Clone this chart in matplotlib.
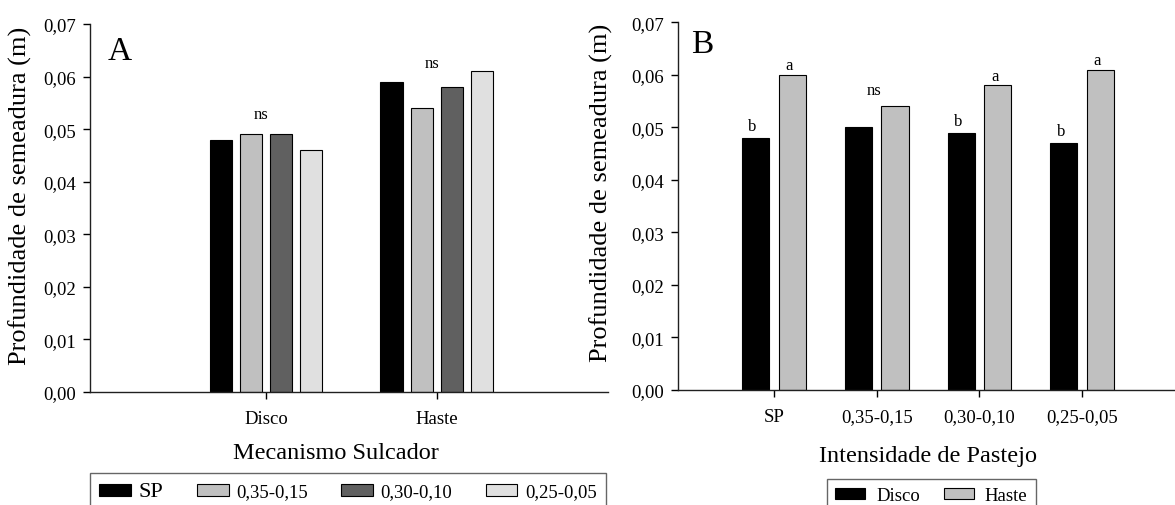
import numpy as np
import matplotlib
matplotlib.use('Agg')
import matplotlib.pyplot as plt
from matplotlib.patches import Patch

plt.rcParams['font.family'] = ['Liberation Serif', 'DejaVu Serif']

# Panel A: depth by furrow opener, grazing intensity as series
mecanismos = ['Disco', 'Haste']
intensidades = ['SP', '0,35-0,15', '0,30-0,10', '0,25-0,05']
prof_A = {
    'SP':        [0.048, 0.059],
    '0,35-0,15': [0.049, 0.054],
    '0,30-0,10': [0.049, 0.058],
    '0,25-0,05': [0.046, 0.061],
}
cores_A = ['#000000', '#c0c0c0', '#606060', '#e0e0e0']
sig_A = ['ns', 'ns']
sig_A_y = [0.0529, 0.0625]

# Panel B: depth by grazing intensity, opener as series
prof_B_disco = [0.048, 0.050, 0.049, 0.047]
prof_B_haste = [0.060, 0.054, 0.058, 0.061]
letras_disco = ['b', '', 'b', 'b']
letras_haste = ['a', '', 'a', 'a']
sig_B_ns = ['', 'ns', '', '']
sig_B_ns_y = 0.0571
cores_B = ['#000000', '#c0c0c0']

yticks = [0.00, 0.01, 0.02, 0.03, 0.04, 0.05, 0.06, 0.07]
yticklabels = ['0,00', '0,01', '0,02', '0,03', '0,04', '0,05', '0,06', '0,07']

fig = plt.figure(figsize=(11.75, 5.06), dpi=100)
axA = fig.add_axes([0.0766, 0.2233, 0.4406, 0.7273])
axB = fig.add_axes([0.577, 0.2279, 0.423, 0.726])


def estilo(ax):
    ax.spines['top'].set_visible(False)
    ax.spines['right'].set_visible(False)
    for s in ['left', 'bottom']:
        ax.spines[s].set_linewidth(1.0)
        ax.spines[s].set_color('#202020')
    ax.set_ylim(0, 0.07)
    ax.set_yticks(yticks)
    ax.set_yticklabels(yticklabels)
    ax.tick_params(axis='y', length=5, width=1, pad=5, labelsize=13.5)
    ax.tick_params(axis='x', length=5, width=1, pad=8, labelsize=13.5)


# ---- panel A
xA = np.arange(1, len(mecanismos) + 1)
larg = 0.132
passo = 0.176
for i, nome in enumerate(intensidades):
    off = (i - 1.5) * passo
    axA.bar(xA + off, prof_A[nome], width=larg, color=cores_A[i],
            edgecolor='black', linewidth=0.8, label=nome)
for j, t in enumerate(sig_A):
    axA.text(xA[j] - 0.03, sig_A_y[j], t, ha='center', va='center', fontsize=12)
estilo(axA)
axA.set_xlim(-0.03, 3.0)
axA.set_xticks(xA)
axA.set_xticklabels(mecanismos)
axA.set_xlabel('Mecanismo Sulcador', fontsize=17.5)
axA.xaxis.set_label_coords(0.475, -0.137)
axA.set_ylabel('Profundidade de semeadura (m)', fontsize=19)
axA.yaxis.set_label_coords(-0.112, 0.535)
axA.text(0.058, 0.928, 'A', transform=axA.transAxes, fontsize=24,
         ha='center', va='center')

handlesA = [Patch(facecolor=c, edgecolor='black', linewidth=0.8, label=n)
            for c, n in zip(cores_A, intensidades)]
legA = fig.legend(handles=handlesA, loc='upper left', ncol=4,
                  bbox_to_anchor=(90 / 1175, 0, 516 / 1175, 1 - 474 / 506),
                  mode='expand', fontsize=13.5, frameon=True, fancybox=False,
                  edgecolor='#404040', handlelength=1.7, handleheight=0.6,
                  handletextpad=0.4, columnspacing=1.8, borderpad=0.5,
                  borderaxespad=0)
legA.get_frame().set_linewidth(1.0)
legA.get_texts()[0].set_fontsize(16)

# ---- panel B
xB = np.arange(1, len(intensidades) + 1)
largB = 0.263
offB = 0.178
axB.bar(xB - offB, prof_B_disco, width=largB, color=cores_B[0],
        edgecolor='black', linewidth=0.8, label='Disco')
axB.bar(xB + offB, prof_B_haste, width=largB, color=cores_B[1],
        edgecolor='black', linewidth=0.8, label='Haste')
for j in range(len(xB)):
    if letras_disco[j]:
        axB.text(xB[j] - offB - 0.03, prof_B_disco[j] + 0.0022, letras_disco[j],
                 ha='center', va='center', fontsize=12)
    if letras_haste[j]:
        axB.text(xB[j] + offB - 0.03, prof_B_haste[j] + 0.0018, letras_haste[j],
                 ha='center', va='center', fontsize=12)
    if sig_B_ns[j]:
        axB.text(xB[j] - 0.03, sig_B_ns_y, sig_B_ns[j], ha='center',
                 va='center', fontsize=12)
estilo(axB)
axB.set_xlim(0.065, 4.904)
axB.set_xticks(xB)
axB.set_xticklabels(intensidades)
axB.set_xlabel('Intensidade de Pastejo', fontsize=17.5)
axB.xaxis.set_label_coords(0.503, -0.15)
axB.set_ylabel('Profundidade de semeadura (m)', fontsize=19)
axB.yaxis.set_label_coords(-0.131, 0.538)
axB.text(0.048, 0.943, 'B', transform=axB.transAxes, fontsize=24,
         ha='center', va='center')

handlesB = [Patch(facecolor=c, edgecolor='black', linewidth=0.8, label=n)
            for c, n in zip(cores_B, ['Disco', 'Haste'])]
legB = fig.legend(handles=handlesB, loc='upper left', ncol=2,
                  bbox_to_anchor=(827 / 1175, 0, 209 / 1175, 1 - 480 / 506),
                  mode='expand', fontsize=13.5, frameon=True, fancybox=False,
                  edgecolor='#404040', handlelength=1.6, handleheight=0.55,
                  handletextpad=0.6, columnspacing=1.6, borderpad=0.45,
                  borderaxespad=0)
legB.get_frame().set_linewidth(1.0)

fig.savefig('out.png', dpi=100)
